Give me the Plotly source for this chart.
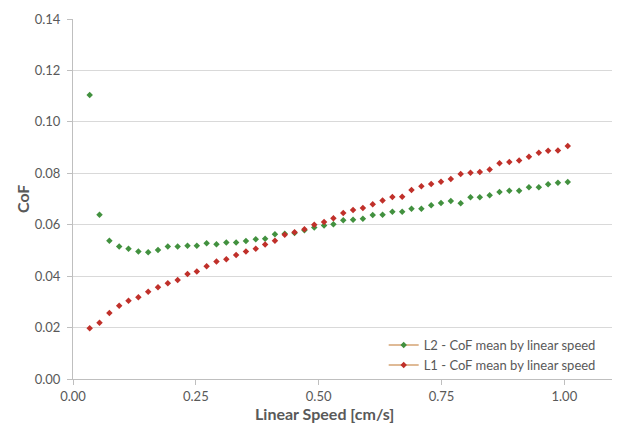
import plotly.graph_objects as go

# Linear speed [cm/s]
speed = [0.034, 0.054, 0.074, 0.094, 0.113, 0.133, 0.153, 0.173, 0.193, 0.213,
         0.233, 0.252, 0.272, 0.292, 0.312, 0.332, 0.352, 0.372, 0.391, 0.411,
         0.431, 0.451, 0.471, 0.491, 0.511, 0.530, 0.550, 0.570, 0.590, 0.610,
         0.630, 0.650, 0.670, 0.689, 0.709, 0.729, 0.749, 0.769, 0.789, 0.809,
         0.828, 0.848, 0.868, 0.888, 0.908, 0.928, 0.948, 0.967, 0.987, 1.007]

l2_cof = [0.1104, 0.0639, 0.0538, 0.0515, 0.0507, 0.0496, 0.0493, 0.0502, 0.0515, 0.0515,
          0.0518, 0.0518, 0.0528, 0.0524, 0.0531, 0.0531, 0.0537, 0.0543, 0.0545, 0.0563,
          0.0565, 0.0568, 0.0578, 0.0589, 0.0597, 0.0602, 0.0617, 0.0619, 0.0623, 0.0638,
          0.0639, 0.0650, 0.0650, 0.0662, 0.0662, 0.0676, 0.0684, 0.0692, 0.0683, 0.0707,
          0.0707, 0.0715, 0.0727, 0.0732, 0.0732, 0.0746, 0.0746, 0.0757, 0.0763, 0.0766]

l1_cof = [0.0197, 0.0219, 0.0257, 0.0285, 0.0304, 0.0318, 0.0339, 0.0357, 0.0372, 0.0385,
          0.0408, 0.0418, 0.0438, 0.0457, 0.0466, 0.0482, 0.0496, 0.0507, 0.0523, 0.0538,
          0.0561, 0.0571, 0.0582, 0.0600, 0.0611, 0.0625, 0.0646, 0.0657, 0.0665, 0.0680,
          0.0694, 0.0708, 0.0709, 0.0735, 0.0750, 0.0758, 0.0767, 0.0778, 0.0797, 0.0802,
          0.0805, 0.0815, 0.0839, 0.0844, 0.0850, 0.0864, 0.0880, 0.0888, 0.0889, 0.0906]

series_names = ["L2 - CoF mean by linear speed", "L1 - CoF mean by linear speed"]
x_ticks = [0.0, 0.25, 0.5, 0.75, 1.0]
x_tick_labels = ["0.00", "0.25", "0.50", "0.75", "1.00"]
y_ticks = [0.0, 0.02, 0.04, 0.06, 0.08, 0.10, 0.12, 0.14]
y_tick_labels = ["0.00", "0.02", "0.04", "0.06", "0.08", "0.10", "0.12", "0.14"]

GREEN = "#42913f"
RED = "#c0302a"
LEGEND_LINE = "#d4a373"
FONT = "Lato"
TXT = "#595959"

fig = go.Figure()
for name, ys, col in [(series_names[0], l2_cof, GREEN), (series_names[1], l1_cof, RED)]:
    fig.add_trace(go.Scatter(
        x=speed, y=ys, mode="markers", name=name, showlegend=False,
        marker=dict(symbol="diamond", size=5, color=col),
    ))
    # legend entry (line + marker as in the original legend)
    fig.add_trace(go.Scatter(
        x=[None], y=[None], mode="lines+markers", name=name,
        line=dict(color=LEGEND_LINE, width=1.5),
        marker=dict(symbol="diamond", size=5, color=col),
    ))

fig.update_layout(
    width=619, height=426,
    margin=dict(l=73, r=7, t=19, b=47),
    paper_bgcolor="white", plot_bgcolor="white",
    font=dict(family=FONT, size=13, color=TXT),
    legend=dict(
        x=0.979, y=0.136, xanchor="right", yanchor="top",
        bgcolor="rgba(0,0,0,0)", font=dict(family=FONT, size=13, color=TXT),
        itemwidth=30, tracegroupgap=0,
    ),
    xaxis=dict(
        range=[0, 1.097], tickvals=x_ticks, ticktext=x_tick_labels,
        showgrid=False, zeroline=False, showline=True, linecolor="#bfbfbf", linewidth=1,
        ticks="outside", ticklen=5, tickcolor="#bfbfbf",
        tickfont=dict(family=FONT, size=13, color=TXT),
    ),
    yaxis=dict(
        range=[0, 0.14], tickvals=y_ticks, ticktext=y_tick_labels,
        showgrid=True, gridcolor="#d9d9d9", gridwidth=1,
        zeroline=False, showline=True, linecolor="#bfbfbf", linewidth=1,
        ticks="outside", ticklen=5, tickcolor="#bfbfbf",
        tickfont=dict(family=FONT, size=13, color=TXT),
        ticklabelstandoff=4,
    ),
    annotations=[
        dict(text="<b>Linear Speed [cm/s]</b>", xref="paper", yref="paper",
             x=0.466, y=0, yshift=-34, xanchor="center", yanchor="middle",
             showarrow=False, font=dict(family=FONT, size=16, color=TXT)),
        dict(text="<b>CoF</b>", xref="paper", yref="paper",
             x=0, xshift=-51, y=0.5, xanchor="center", yanchor="middle", textangle=-90,
             showarrow=False, font=dict(family=FONT, size=16, color=TXT)),
    ],
)

fig.write_html("out.html", config={"displayModeBar": False},
               post_script="document.body.style.margin='0';")
